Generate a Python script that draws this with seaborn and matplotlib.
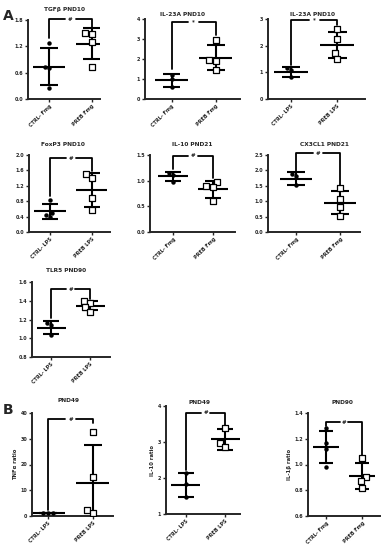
import numpy as np
import pandas as pd
import seaborn as sns
import matplotlib.pyplot as plt

sns.set_theme(style="ticks")
plt.rcParams['font.family'] = ['DejaVu Sans']

W, H = 386, 550

# ---- data ----
titles = ['TGFβ PND10', 'IL-23A PND10', 'IL-23A PND10', 'FoxP3 PND10', 'IL-10 PND21',
          'CX3CL1 PND21', 'TLR5 PND90', 'PND49', 'PND49', 'PND90']
fmg = ['CTRL- Fmg', 'PREB Fmg']
lps = ['CTRL- LPS', 'PREB LPS']
groups = [fmg, fmg, lps, lps, fmg, fmg, lps, lps, lps, fmg]

ctrl = [
    [1.27, 0.74, 0.70, 0.25],
    [1.22, 0.98, 0.60],
    [1.15, 1.07, 0.82],
    [0.82, 0.50, 0.44, 0.40],
    [1.15, 1.12, 0.98],
    [1.89, 1.81, 1.51],
    [1.16, 1.14, 1.03],
    [1.3, 1.2, 1.1],
    [2.15, 1.82, 1.48],
    [1.28, 1.17, 1.12, 0.98],
]
preb = [
    [1.47, 1.50, 1.31, 0.74],
    [2.93, 1.97, 1.88, 1.47],
    [2.61, 2.26, 1.74, 1.51],
    [1.50, 1.41, 0.89, 0.57],
    [0.97, 0.89, 0.87, 0.60],
    [1.43, 1.06, 0.80, 0.53],
    [1.40, 1.375, 1.33, 1.285],
    [32.7, 15.2, 2.5, 1.2],
    [3.40, 2.97, 2.85],
    [1.05, 0.90, 0.87, 0.82],
]
yticks = [
    [0, 0.6, 1.2, 1.8],
    [0, 1, 2, 3, 4],
    [0, 1, 2, 3],
    [0, 0.4, 0.8, 1.2, 1.6, 2.0],
    [0, 0.5, 1.0, 1.5],
    [0, 0.5, 1.0, 1.5, 2.0, 2.5],
    [0.8, 1.0, 1.2, 1.4, 1.6],
    [0, 10, 20, 30, 40],
    [1, 2, 3, 4],
    [0.6, 0.8, 1.0, 1.2, 1.4],
]
ylabels = ['', '', '', '', '', '', '', 'TNFα ratio', 'IL-10 ratio', 'IL-1β ratio']
# significance bracket: top, ctrl leg end, preb leg end, symbol
sig = [
    (1.82, 1.38, 1.63, '#'),
    (3.87, 1.50, 3.20, '*'),
    (2.96, 1.27, 2.78, '*'),
    (1.91, 0.94, 1.58, '#'),
    (1.49, 1.22, 1.05, '#'),
    (2.55, 1.98, 1.48, '#'),
    (1.525, 1.22, 1.42, '#'),
    (37.5, 2.2, 36.0, '#'),
    (3.81, 2.22, 3.48, '#'),
    (1.33, 1.30, 1.06, '#'),
]

# ---- layout (pixel boxes: left, top, right, bottom) ----
boxes = [(28, 20, 100, 99), (145, 19, 240, 99), (268, 19, 365, 99),
         (29, 155, 110, 232), (150, 155, 235, 232), (268, 155, 360, 232),
         (32, 282, 110, 357),
         (32, 413, 113, 516), (166, 406, 240, 514), (308, 413, 380, 516)]
xlims = [(-0.49, 1.19), (-0.6, 1.55), (-0.5, 1.6), (-0.5, 1.43), (-0.58, 1.55),
         (-0.64, 1.45), (-0.49, 1.51), (-0.36, 1.45), (-0.51, 1.38), (-0.5, 1.5)]
title_pos = [(65, 10), (183, 15), (313, 15), (63, 145), (192, 145), (324, 145),
             (66, 271), (68, 401), (200, 403), (342, 402)]
fmt = ['%.1f', '%d', '%d', '%.1f', '%.1f', '%.1f', '%.1f', '%d', '%d', '%.1f']

fig = plt.figure(figsize=(W / 100, H / 100), dpi=100)

for k in range(10):
    l, t, r, b = boxes[k]
    ax = fig.add_axes([l / W, 1 - b / H, (r - l) / W, (b - t) / H])
    g = groups[k]
    df = pd.DataFrame({'group': [g[0]] * len(ctrl[k]) + [g[1]] * len(preb[k]),
                       'value': ctrl[k] + preb[k]})

    # mean +/- SD
    for i, vals in enumerate([ctrl[k], preb[k]]):
        m = np.mean(vals)
        s = np.std(vals, ddof=1)
        ax.hlines(m, i - 0.37, i + 0.37, color='black', lw=1.5, zorder=2)
        ax.vlines(i, m - s, m + s, color='black', lw=1.5, zorder=2)
        ax.hlines([m - s, m + s], i - 0.2, i + 0.2, color='black', lw=1.5, zorder=2)

    sns.swarmplot(data=df[df.group == g[0]], x='group', y='value', order=g,
                  marker='o', color='black', size=3.2, ax=ax, zorder=3)
    sns.swarmplot(data=df[df.group == g[1]], x='group', y='value', order=g,
                  marker='s', color='white', edgecolor='black', linewidth=0.9,
                  size=3.8, ax=ax, zorder=3)

    # significance bracket
    top, c_leg, p_leg, sym = sig[k]
    kw = dict(color='black', lw=1.3, clip_on=False, zorder=2)
    ax.plot([0, 0, 0.38], [c_leg, top, top], **kw)
    ax.plot([0.62, 1, 1], [top, top, p_leg], **kw)
    ax.text(0.5, top, sym, ha='center', va='center', fontsize=4, fontweight='bold')

    ax.set_xlim(*xlims[k])
    ax.set_ylim(yticks[k][0], yticks[k][-1])
    ax.set_yticks(yticks[k])
    ax.set_yticklabels([fmt[k] % v for v in yticks[k]])
    ax.set_xticks([0, 1])
    ax.set_xticklabels(g, rotation=45, ha='right', rotation_mode='anchor')
    ax.set_xlabel('')
    ax.set_ylabel(ylabels[k], fontsize=3.8, fontweight='bold', labelpad=2)
    sns.despine(ax=ax)
    for sp in ['left', 'bottom']:
        ax.spines[sp].set_linewidth(1.4)
    ax.tick_params(axis='both', length=2, width=1.0, labelsize=3.5, pad=1.5)
    plt.setp(ax.get_xticklabels() + ax.get_yticklabels(), fontweight='bold')

    tx, ty = title_pos[k]
    fig.text(tx / W, 1 - ty / H, titles[k], ha='center', va='center',
             fontsize=4.2, fontweight='bold')

fig.text(3 / W, 1 - 9 / H, 'A', ha='left', va='top', fontsize=10, fontweight='bold')
fig.text(3 / W, 1 - 403 / H, 'B', ha='left', va='top', fontsize=10, fontweight='bold')

fig.savefig('out.png', dpi=100)
